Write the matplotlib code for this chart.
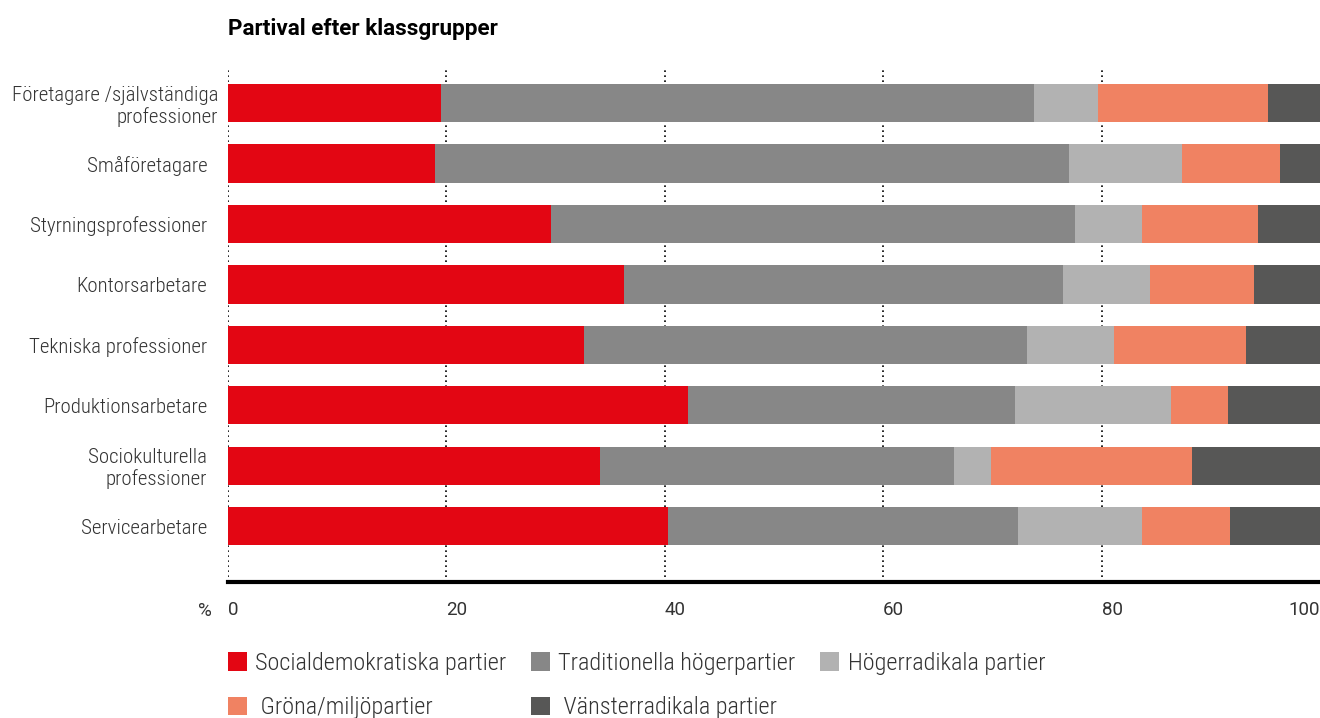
import matplotlib
matplotlib.use('Agg')
import matplotlib.pyplot as plt
import matplotlib.transforms as mtrans
import numpy as np

cond = ['Roboto Condensed', 'Archivo Narrow', 'Roboto', 'DejaVu Sans']
wide = ['Roboto', 'DejaVu Sans']
plt.rcParams['font.family'] = cond

# klassgrupper (uppifrån och ned)
groups = ['Företagare /självständiga\nprofessioner', 'Småföretagare', 'Styrningsprofessioner',
          'Kontorsarbetare', 'Tekniska professioner', 'Produktionsarbetare',
          'Sociokulturella\nprofessioner', 'Servicearbetare']
party_names = ['Socialdemokratiska partier', 'Traditionella högerpartier', 'Högerradikala partier',
               'Gröna/miljöpartier', 'Vänsterradikala partier']

# andelar i procent
socdem = [19.5, 19.0, 29.6, 36.3, 32.6, 42.1, 34.1, 40.3]
trad_hoger = [54.3, 58.0, 48.0, 40.2, 40.6, 30.0, 32.4, 32.0]
hogerrad = [5.9, 10.4, 6.1, 7.9, 7.9, 14.3, 3.4, 11.4]
grona = [15.5, 8.9, 10.6, 9.6, 12.1, 5.2, 18.4, 8.1]
vansterrad = [4.8, 3.7, 5.7, 6.0, 6.8, 8.4, 11.7, 8.2]

tick_vals = [0, 20, 40, 60, 80, 100]
colors = ['#E30613', '#878787', '#B2B2B2', '#F08262', '#575756']
text_col = '#333333'

series = [socdem, trad_hoger, hogerrad, grona, vansterrad]

fig = plt.figure(figsize=(13.2, 7.18), dpi=100)
ax = fig.add_axes([228 / 1320, 1 - 582 / 718, 1 - 228 / 1320, (582 - 68) / 718])

y = np.arange(len(groups))
left = np.zeros(len(groups))
bars = []
for vals, col, name in zip(series, colors, party_names):
    b = ax.barh(y, vals, left=left, height=0.63, color=col, label=name, zorder=3)
    bars.append(b)
    left = left + np.array(vals)

# prickade stödlinjer
for t in tick_vals[:-1]:
    ax.axvline(t, color='black', linestyle=(0, (1, 2)), linewidth=1.2, zorder=1)

ax.set_xlim(0, 100)
ax.set_ylim(7.92, -0.58)
ax.set_yticks(y)
ax.set_yticklabels(groups, fontsize=15, color=text_col, linespacing=1.13, fontweight='light')
ax.tick_params(axis='y', length=0, pad=15)
# första etiketten står längre till höger i originalet
lab0 = ax.get_yticklabels()[0]
lab0.set_transform(lab0.get_transform() + mtrans.ScaledTranslation(11 / 100, 0, fig.dpi_scale_trans))

ax.set_xticks(tick_vals)
ax.set_xticklabels([str(t) for t in tick_vals], fontsize=13.5, color=text_col, family=wide)
ax.tick_params(axis='x', length=0, pad=14)
for lab, t in zip(ax.get_xticklabels(), tick_vals):
    lab.set_ha('right' if t == 100 else 'left')

for s in ['top', 'right', 'left']:
    ax.spines[s].set_visible(False)
ax.spines['bottom'].set_linewidth(3)
ax.spines['bottom'].set_color('black')
ax.spines['bottom'].set_zorder(5)

ax.text(-1.5, -0.038, '%', transform=ax.get_xaxis_transform(), ha='right', va='top',
        fontsize=13.5, color=text_col, family=wide)

fig.text(228 / 1320, 1 - 29 / 718, 'Partival efter klassgrupper', fontsize=16.2,
         fontweight='bold', color='black', va='center', ha='left', family=wide)

# förklaring: två rader, tre kolumner
order = [0, 3, 1, 4, 2]
handles = [bars[i] for i in order]
labels = [party_names[i] for i in order]
labels = [(' ' + l) if l in ('Gröna/miljöpartier', 'Vänsterradikala partier') else l for l in labels]
fig.legend(handles, labels, ncol=3, loc='upper left', bbox_to_anchor=(228 / 1320, 1 - 652 / 718),
           frameon=False, prop={'size': 17.5, 'weight': 'light'}, handlelength=0.78, handleheight=0.78,
           handletextpad=0.35, columnspacing=1.0, labelspacing=0.88, labelcolor=text_col,
           borderaxespad=0, borderpad=0)

fig.savefig('out.png', dpi=100)
